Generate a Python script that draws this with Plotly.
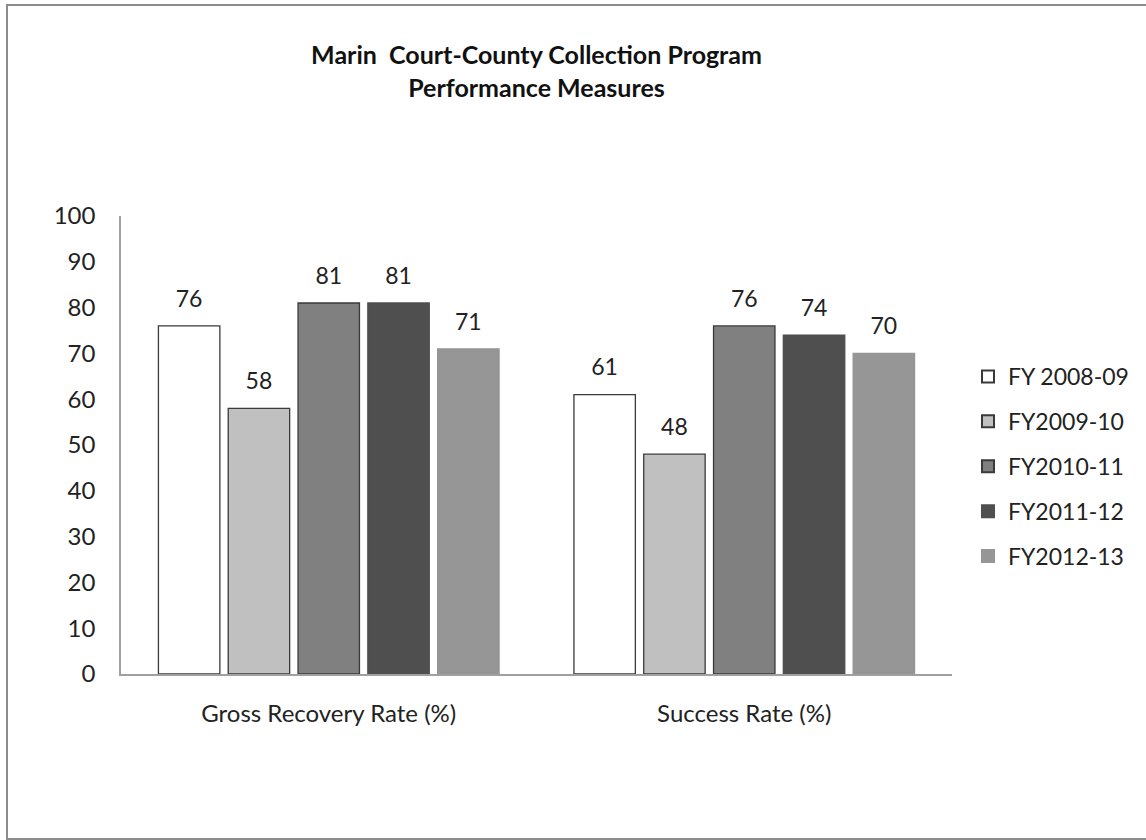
import plotly.graph_objects as go

categories = ["Gross Recovery Rate (%)", "Success Rate (%)"]
series_names = ["FY 2008-09", "FY2009-10", "FY2010-11", "FY2011-12", "FY2012-13"]
fy0809 = [76, 61]
fy0910 = [58, 48]
fy1011 = [81, 76]
fy1112 = [81, 74]
fy1213 = [71, 70]
series_values = [fy0809, fy0910, fy1011, fy1112, fy1213]
colors = ["#ffffff", "#c0c0c0", "#808080", "#4f4f4f", "#969696"]
outlines = ["#3a3a3a", "#3a3a3a", "#3a3a3a", "#4f4f4f", "#969696"]

FONT = "Lato, Open Sans, sans-serif"
FS = 24
GAP = 0.16

fig = go.Figure()
for i, (name, vals, c, oc) in enumerate(zip(series_names, series_values, colors, outlines)):
    fig.add_trace(go.Bar(
        x=categories, y=vals, name=name, legendgroup=f"g{i}", offsetgroup=str(i),
        marker=dict(color=c, line=dict(color=oc, width=1.3)),
        hoverinfo="skip",
    ))
for i, (name, vals) in enumerate(zip(series_names, series_values)):
    fig.add_trace(go.Scatter(
        x=categories, y=vals, name=name, offsetgroup=str(i), showlegend=False,
        mode="markers+text", text=[str(v) for v in vals], textposition="top center",
        marker=dict(size=20, color="rgba(0,0,0,0)"),
        textfont=dict(size=FS - 1, color="#222222", family=FONT),
        cliponaxis=False, hoverinfo="skip",
    ))

W, H = 1146, 840
L, R, T, B = 121, 194, 216, 166
pw, ph = W - L - R, H - T - B

def px_x(p):
    return (p - L) / pw

def px_y(p):
    return (H - B - p) / ph

fig.update_layout(
    width=W, height=H,
    margin=dict(l=L, r=R, t=T, b=B),
    paper_bgcolor="white", plot_bgcolor="white",
    barmode="group", bargap=GAP, bargroupgap=0.12,
    scattermode="group", scattergap=GAP,
    font=dict(family=FONT, size=FS, color="#222222"),
    title=dict(
        text="<b>Marin  Court-County Collection Program</b><br><b>Performance Measures</b>",
        xref="paper", x=0.5, xanchor="center", y=1 - 64 / H, yanchor="top",
        font=dict(size=25, family=FONT, color="#111111"),
    ),
    showlegend=True,
    legend=dict(
        xref="container", yref="container",
        x=968 / W, y=1 - 355 / H, xanchor="left", yanchor="top",
        font=dict(size=FS - 1, family=FONT, color="#222222"),
        tracegroupgap=12, itemsizing="constant", itemwidth=30,
        bgcolor="rgba(0,0,0,0)",
    ),
    xaxis=dict(
        showline=True, linecolor="#a0a0a0", linewidth=1.5,
        ticks="", tickfont=dict(size=FS, family=FONT, color="#222222"),
        showgrid=False, ticklabelstandoff=17,
    ),
    yaxis=dict(
        range=[0, 100], dtick=10, showline=True, linecolor="#a0a0a0", linewidth=1.5,
        ticks="", showgrid=False, zeroline=False,
        tickfont=dict(size=FS, family=FONT, color="#222222"),
        ticklabelstandoff=19,
    ),
    shapes=[dict(
        type="rect", xref="paper", yref="paper",
        x0=px_x(7), x1=px_x(W + 10), y0=px_y(839), y1=px_y(5),
        line=dict(color="#8c8c8c", width=2), fillcolor="rgba(0,0,0,0)", layer="below",
    )],
)

fig.write_html(
    "out.html",
    config={"displayModeBar": False},
    post_script="document.body.style.margin='0';document.body.style.overflow='hidden';",
)
